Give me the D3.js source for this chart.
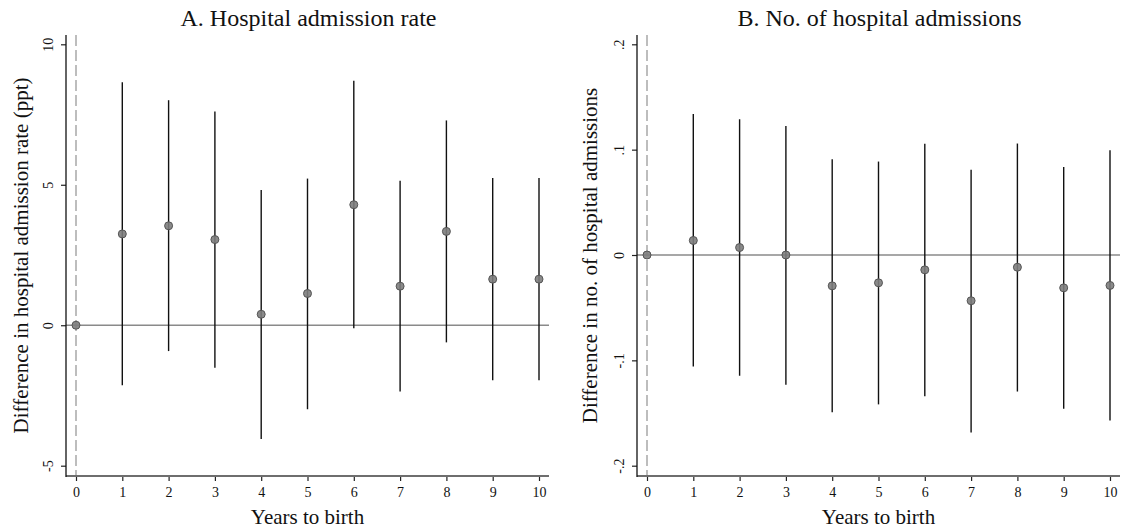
<!DOCTYPE html>
<html>
<head>
<meta charset="utf-8">
<script src="https://cdn.jsdelivr.net/npm/d3@7/dist/d3.min.js"></script>
<style>
  html, body { margin: 0; padding: 0; background: #fff; }
  svg { display: block; font-family: "Liberation Serif", "Times New Roman", serif; }
</style>
</head>
<body>
<svg id="chart" width="1124" height="531"></svg>
<script>
// Event-study estimates by years to birth, with 95% confidence intervals
const years = [0, 1, 2, 3, 4, 5, 6, 7, 8, 9, 10];

// Panel A: hospital admission rate (percentage points)
const rateEst  = [0, 3.25, 3.54, 3.05, 0.39, 1.13, 4.29, 1.39, 3.34, 1.64, 1.64];
const rateLow  = [0, -2.14, -0.92, -1.51, -4.05, -2.99, -0.11, -2.36, -0.61, -1.96, -1.96];
const rateHigh = [0, 8.65, 8.01, 7.61, 4.81, 5.22, 8.70, 5.14, 7.29, 5.24, 5.24];
const rateTicks = [-5, 0, 5, 10];
const rateTickLabels = ["-5", "0", "5", "10"];

// Panel B: number of hospital admissions
const countEst  = [0, 0.0138, 0.0071, 0.0, -0.0293, -0.0264, -0.0141, -0.0434, -0.0116, -0.0312, -0.0289];
const countLow  = [0, -0.1058, -0.1145, -0.1232, -0.1492, -0.1418, -0.1341, -0.1685, -0.1296, -0.1460, -0.1572];
const countHigh = [0, 0.1338, 0.1289, 0.1225, 0.0910, 0.0887, 0.1055, 0.0810, 0.1058, 0.0836, 0.0994];
const countTicks = [-0.2, -0.1, 0, 0.1, 0.2];
const countTickLabels = ["-.2", "-.1", "0", ".1", ".2"];

const svg = d3.select("#chart");
svg.append("rect").attr("width", 1124).attr("height", 531).attr("fill", "#fff");

function panel(opts) {
  const { left, right, top, bottom, yDomain, yTicks, yLabels, est, low, high, title, yTitle, yTitleX } = opts;
  const g = svg.append("g");

  const x = d3.scaleLinear().domain([0, 10]).range([left + 10, right - 10]);
  const y = d3.scaleLinear().domain(yDomain).range([465.7, 44.3]);

  // reference lines: zero effect and event time
  g.append("line")
    .attr("x1", left).attr("x2", right)
    .attr("y1", y(0)).attr("y2", y(0))
    .attr("stroke", "#8a8a8a").attr("stroke-width", 1.3);
  g.append("line")
    .attr("x1", x(0)).attr("x2", x(0))
    .attr("y1", top).attr("y2", bottom)
    .attr("stroke", "#9a9a9a").attr("stroke-width", 1.3)
    .attr("stroke-dasharray", "11,4");

  // confidence intervals
  g.selectAll("line.ci").data(years).enter().append("line")
    .attr("class", "ci")
    .attr("x1", d => x(d)).attr("x2", d => x(d))
    .attr("y1", (d, i) => y(low[i])).attr("y2", (d, i) => y(high[i]))
    .attr("stroke", "#111").attr("stroke-width", 1.4);

  // point estimates
  g.selectAll("circle.pt").data(years).enter().append("circle")
    .attr("class", "pt")
    .attr("cx", d => x(d)).attr("cy", (d, i) => y(est[i]))
    .attr("r", 4)
    .attr("fill", "#7d7d7d").attr("fill-opacity", 0.9)
    .attr("stroke", "#555").attr("stroke-width", 1);

  // x axis
  const xAxis = g.append("g")
    .attr("transform", `translate(0,${bottom})`)
    .call(d3.axisBottom(x).tickValues(years).tickFormat(d3.format("d")).tickSize(5).tickSizeOuter(0).tickPadding(5));
  xAxis.select(".domain").remove();
  xAxis.selectAll(".tick line").attr("stroke", "#222").attr("stroke-width", 1.2);
  xAxis.selectAll(".tick text")
    .attr("font-size", 14).attr("fill", "#111")
    .attr("font-family", "Liberation Serif, Times New Roman, serif")
    .attr("dy", null).attr("y", 21);
  g.append("line")
    .attr("x1", left).attr("x2", right)
    .attr("y1", bottom).attr("y2", bottom)
    .attr("stroke", "#6e6e6e").attr("stroke-width", 2);

  // y axis
  const yAxis = g.append("g")
    .attr("transform", `translate(${left},0)`)
    .call(d3.axisLeft(y).tickValues(yTicks).tickFormat((d, i) => yLabels[i]).tickSize(5).tickSizeOuter(0));
  yAxis.select(".domain").remove();
  yAxis.selectAll(".tick line").attr("stroke", "#222").attr("stroke-width", 1.2);
  yAxis.selectAll(".tick text")
    .attr("font-size", 14).attr("fill", "#111")
    .attr("font-family", "Liberation Serif, Times New Roman, serif")
    .attr("x", null).attr("dy", null)
    .attr("text-anchor", "middle")
    .attr("transform", "translate(-13,0) rotate(-90)");
  g.append("line")
    .attr("x1", left).attr("x2", left)
    .attr("y1", top).attr("y2", bottom + 1)
    .attr("stroke", "#111").attr("stroke-width", 1.3);

  // titles
  const cx = (left + right) / 2;
  g.append("text")
    .attr("x", cx + 1).attr("y", 26)
    .attr("text-anchor", "middle")
    .attr("font-size", 24).attr("fill", "#111")
    .text(title);
  g.append("text")
    .attr("x", cx).attr("y", 524)
    .attr("text-anchor", "middle")
    .attr("font-size", 21).attr("fill", "#111")
    .text("Years to birth");
  g.append("text")
    .attr("transform", `translate(${yTitleX},${(top + bottom) / 2}) rotate(-90)`)
    .attr("text-anchor", "middle")
    .attr("font-size", 21).attr("fill", "#111")
    .text(yTitle);
}

panel({
  left: 66, right: 549, top: 35, bottom: 476,
  yDomain: [-5, 10], yTicks: rateTicks, yLabels: rateTickLabels,
  est: rateEst, low: rateLow, high: rateHigh,
  title: "A. Hospital admission rate",
  yTitle: "Difference in hospital admission rate (ppt)",
  yTitleX: 28
});

panel({
  left: 637, right: 1120, top: 35, bottom: 476,
  yDomain: [-0.2, 0.2], yTicks: countTicks, yLabels: countTickLabels,
  est: countEst, low: countLow, high: countHigh,
  title: "B. No. of hospital admissions",
  yTitle: "Difference in no. of hospital admissions",
  yTitleX: 597
});
</script>
</body>
</html>
